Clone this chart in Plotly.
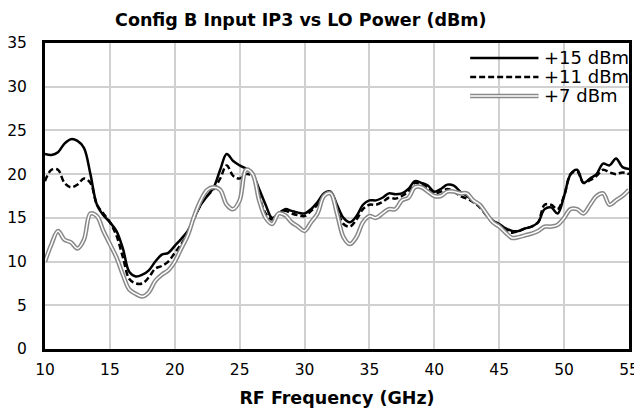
import plotly.graph_objects as go

freq_ghz = [10, 10.5, 11, 11.5, 12, 12.5, 13, 13.5, 14, 14.5, 15, 15.5, 16, 16.5, 17, 17.5, 18, 18.5, 19, 19.5,
            20, 20.5, 21, 21.5, 22, 22.5, 23, 23.5, 24, 24.5, 25, 25.5, 26, 26.5, 27, 27.5, 28, 28.5, 29, 29.5,
            30, 30.5, 31, 31.5, 32, 32.5, 33, 33.5, 34, 34.5, 35, 35.5, 36, 36.5, 37, 37.5, 38, 38.5, 39, 39.5,
            40, 40.5, 41, 41.5, 42, 42.5, 43, 43.5, 44, 44.5, 45, 45.5, 46, 46.5, 47, 47.5, 48, 48.5, 49, 49.5,
            50, 50.5, 51, 51.5, 52, 52.5, 53, 53.5, 54, 54.5, 55]

iip3_lo15 = [22.3, 22.2, 22.5, 23.5, 24.0, 23.8, 23.0, 20.0, 16.5, 15.3, 14.5, 13.5, 11.5, 8.8, 8.3, 8.5, 9.0, 10.0, 10.8, 11.0,
             11.8, 12.6, 13.5, 15.0, 16.5, 17.5, 18.5, 20.5, 22.3, 21.5, 21.0, 20.6, 20.0, 18.3, 16.5, 15.0, 15.5, 16.0, 15.8, 15.6,
             15.5, 16.0, 16.8, 17.8, 18.0, 16.5, 15.0, 14.5, 15.2, 16.5, 17.0, 17.0, 17.3, 17.8, 17.7, 17.8, 18.3, 19.2, 19.0, 18.7,
             18.0, 18.3, 18.8, 18.7, 18.0, 17.5, 17.0, 16.5, 15.5, 14.7, 14.3, 13.8, 13.5, 13.5, 13.8, 14.0, 14.5, 16.0, 16.2, 15.5,
             17.5, 20.0, 20.5, 19.0, 19.5, 20.0, 21.2, 21.0, 21.8, 20.8, 20.6]

iip3_lo11 = [19.2, 20.5, 20.5, 19.0, 18.5, 18.8, 19.5, 19.0, 16.5, 15.5, 14.5, 13.0, 10.5, 8.0, 7.5, 7.5, 8.2, 9.2, 9.5, 10.0,
             11.0, 12.0, 13.2, 15.0, 16.5, 17.5, 18.3, 19.5, 21.0, 19.8, 19.5, 20.0, 19.8, 17.5, 15.5, 14.8, 15.5, 15.8, 15.5, 15.3,
             15.2, 15.8, 16.5, 17.5, 17.8, 16.0, 14.3, 14.0, 14.8, 16.0, 16.5, 16.5, 16.8, 17.3, 17.2, 17.5, 18.0, 19.0, 18.8, 18.5,
             17.8, 18.0, 18.3, 18.0, 17.5, 17.2, 16.8, 16.2, 15.3, 14.5, 14.0, 13.5, 13.3, 13.5, 13.8, 14.0, 14.5, 16.5, 16.5, 16.0,
             17.5, 20.0, 20.3, 19.0, 19.3, 19.8, 20.5, 20.2, 20.0, 20.2, 20.0]

iip3_lo7 = [10.0, 12.0, 13.5, 12.5, 12.2, 11.5, 12.5, 15.5, 15.2, 13.5, 12.0, 10.5, 8.5, 6.8, 6.3, 6.0, 6.5, 7.8, 8.5, 9.0,
            10.0, 11.5, 13.0, 15.2, 17.0, 18.2, 18.5, 18.2, 16.5, 16.0, 17.0, 20.5, 20.0, 17.0, 15.0, 14.3, 15.5, 15.3, 14.5, 14.0,
            13.5, 14.5, 15.5, 17.5, 17.8, 15.5, 12.8, 12.0, 12.8, 14.5, 15.2, 15.0, 15.5, 16.0, 16.0, 17.0, 17.3, 18.5, 18.5, 18.0,
            17.5, 17.5, 18.0, 18.0, 17.8, 17.8, 17.0, 16.5, 15.5, 14.5, 14.0, 13.3, 12.7, 12.8, 13.0, 13.2, 13.5, 14.0, 14.0, 14.2,
            15.0, 16.0, 16.0, 15.5, 16.5, 17.5, 17.8, 16.5, 17.0, 17.5, 18.2]

legend_labels = ["+15 dBm", "+11 dBm", "+7 dBm"]

font = "DejaVu Sans"
fig = go.Figure()
fig.add_trace(go.Scatter(x=freq_ghz, y=iip3_lo15, mode="lines", line=dict(color="black", width=2.5, shape="spline")))
fig.add_trace(go.Scatter(x=freq_ghz, y=iip3_lo11, mode="lines",
                         line=dict(color="black", width=2.5, dash="6px,3px", shape="spline")))
fig.add_trace(go.Scatter(x=freq_ghz, y=iip3_lo7, mode="lines", line=dict(color="#888888", width=4.5, shape="spline")))
fig.add_trace(go.Scatter(x=freq_ghz, y=iip3_lo7, mode="lines", line=dict(color="white", width=1.5, shape="spline")))

# hand-drawn legend in the top right corner
legend_y = [0.951, 0.889, 0.827]
for i, label in enumerate(legend_labels):
    y = legend_y[i]
    if i == 0:
        styles = [dict(color="black", width=2.5)]
    elif i == 1:
        styles = [dict(color="black", width=2.5, dash="6px,3px")]
    else:
        styles = [dict(color="#888888", width=4.5), dict(color="white", width=1.5)]
    for st in styles:
        fig.add_shape(type="line", xref="paper", yref="paper", x0=0.728, x1=0.845, y0=y, y1=y, line=st)
    fig.add_annotation(x=0.851, y=y, xref="paper", yref="paper", text=label, showarrow=False,
                       xanchor="left", yanchor="middle", font=dict(family=font, size=18, color="black"))

# the page body adds an 8px offset, so the figure is a bit smaller than the window
fig.update_layout(
    width=634, height=409,
    margin=dict(l=37, r=13, t=35, b=68),
    paper_bgcolor="white", plot_bgcolor="white",
    showlegend=False,
    title=dict(text="<b>Config B Input IP3 vs LO Power (dBm)</b>", x=0.438, xanchor="center",
               xref="paper", y=1 - 12 / 409, yref="container", yanchor="middle",
               font=dict(family=font, size=17.5, color="black")),
    font=dict(family=font, size=15, color="black"),
)
fig.update_xaxes(range=[10, 55], dtick=5, showgrid=True, gridcolor="#d0d0d0", gridwidth=1.5,
                 showline=True, linecolor="black", linewidth=3, mirror=True,
                 ticks="outside", ticklen=4, tickcolor="white", zeroline=False, automargin=False,
                 title=dict(text="<b>RF Frequency (GHz)</b>", font=dict(family=font, size=17.5), standoff=15),
                 tickfont=dict(family=font, size=15.5))
fig.update_yaxes(range=[0, 35], dtick=5, showgrid=True, gridcolor="#d0d0d0", gridwidth=1.5,
                 showline=True, linecolor="black", linewidth=3, mirror=True,
                 ticks="outside", ticklen=12, tickcolor="white", zeroline=False, automargin=False,
                 tickfont=dict(family=font, size=15.5))

fig.write_html("out.html")
